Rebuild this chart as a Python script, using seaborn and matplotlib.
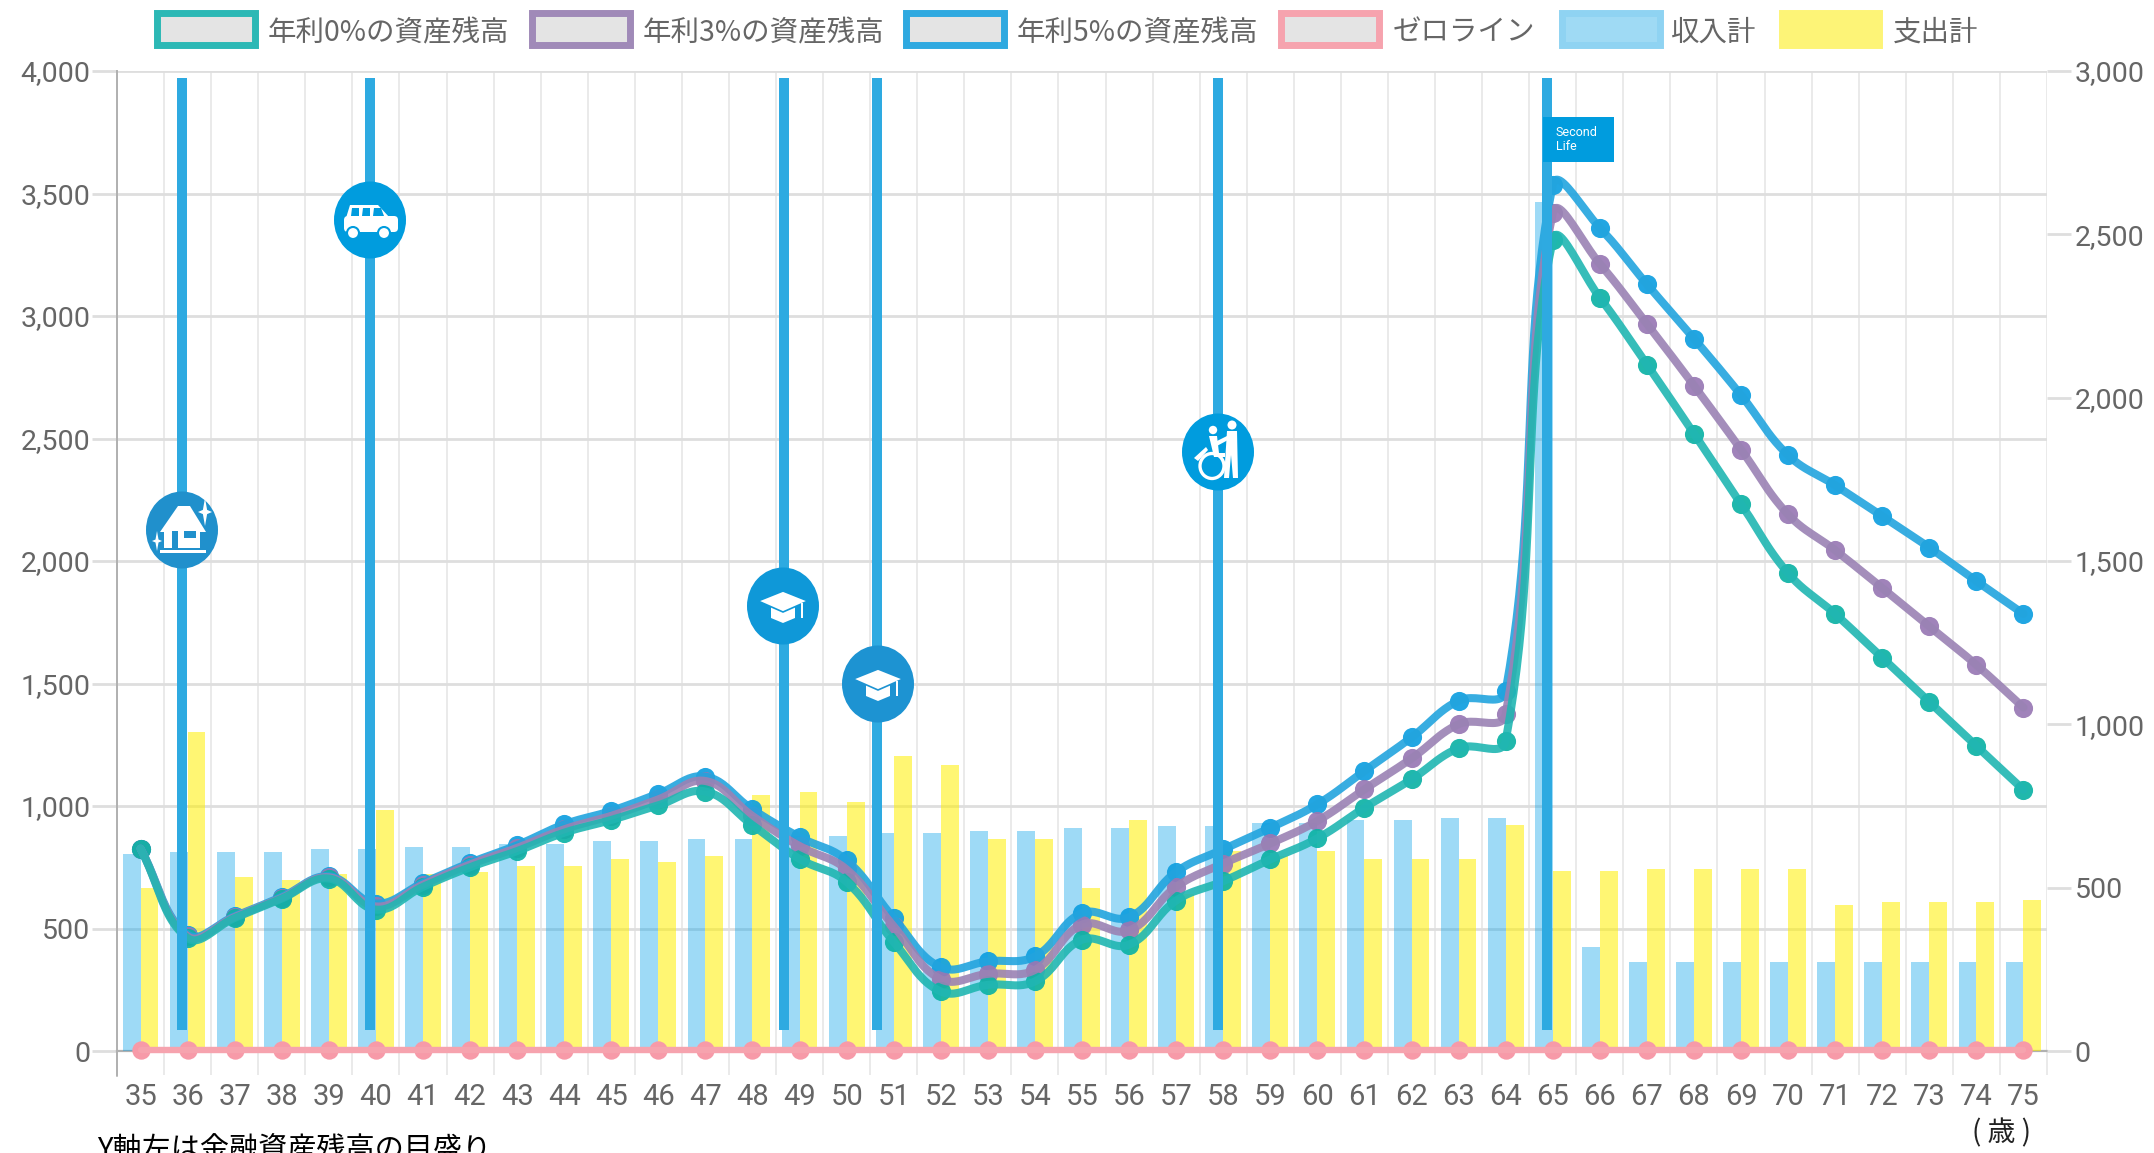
import numpy as np
import pandas as pd
import matplotlib
matplotlib.use("Agg")
import matplotlib.pyplot as plt
from matplotlib.patches import Rectangle, Ellipse, Polygon, Circle, FancyBboxPatch
import seaborn as sns

ages = list(range(35, 76))
rate0 = [826,461,543,622,704,577,670,750,816,891,943,1003,1059,922,784,690,445,243,270,284,454,434,614,693,782,868,993,1109,1236,1266,
         3310,3075,2802,2520,2233,1950,1784,1605,1425,1245,1066]
rate3 = [826,468,547,625,709,590,679,761,829,905,960,1027,1102,959,836,741,509,293,315,331,516,492,670,765,847,939,1068,1194,1334,1375,
         3420,3213,2968,2716,2455,2190,2044,1890,1733,1576,1402]
rate5 = [826,475,550,629,713,602,686,768,840,925,980,1050,1120,986,873,778,543,342,366,386,563,546,731,823,911,1007,1143,1280,1430,1470,
         3535,3360,3130,2908,2677,2432,2309,2183,2055,1918,1784]
zero_line = [6]*41
income = [602,610,610,610,618,618,626,626,634,634,642,642,650,650,658,658,666,666,674,674,682,682,690,690,698,698,706,706,714,714,
          2600,319,271,271,271,271,271,271,271,271,271]
expense = [500,977,533,525,541,738,541,548,565,565,587,580,596,785,793,762,904,874,650,650,500,706,480,612,598,613,589,589,589,692,
           550,550,558,558,558,558,447,455,455,455,462]
left_ticks = [0,500,1000,1500,2000,2500,3000,3500,4000]
right_ticks = [0,500,1000,1500,2000,2500,3000]
series_names = ["年利0%の資産残高","年利3%の資産残高","年利5%の資産残高","ゼロライン","収入計","支出計"]
event_ages = [36,40,49,51,58,65]

W, H = 2154, 1153
L, R, T, B = 117, 2047, 71, 1051
sns.set_theme(style="white")
plt.rcParams['font.family'] = ['Roboto', 'Noto Sans CJK JP', 'DejaVu Sans']
GREY = "#666666"; GRID = "#dedede"; VGRID = "#e6e6e6"
fig = plt.figure(figsize=(W/100, H/100), dpi=100, facecolor="white")
rect = [L/W, 1-B/H, (R-L)/W, (B-T)/H]

# back axes: left scale, grid
ax = fig.add_axes(rect, zorder=1)
ax.set_xlim(-0.5, 40.5); ax.set_ylim(0, 4000)
ax.set_yticks(left_ticks); ax.set_yticklabels([f"{v:,}" for v in left_ticks])
ax.set_xticks(np.arange(-0.5, 41, 1)); ax.set_xticklabels([])
ax.grid(True, axis='y', color=GRID, lw=2.0)
ax.grid(True, axis='x', color=VGRID, lw=1.2)
ax.tick_params(axis='y', length=18, width=2.0, color=GRID, labelsize=20.5, labelcolor=GREY, pad=1, left=True)
ax.tick_params(axis='x', length=17, width=1.2, color=VGRID, bottom=True)
for s in ax.spines.values(): s.set_visible(False)
ax.spines['left'].set_visible(True); ax.spines['left'].set_color("#b0b0b0"); ax.spines['left'].set_linewidth(1.4)
ax.spines['bottom'].set_visible(True); ax.spines['bottom'].set_color("#b0b0b0"); ax.spines['bottom'].set_linewidth(1.6)
ax.plot([-0.5,-0.5],[0,-100],color="#b0b0b0",lw=1.4,clip_on=False)

# bars: right scale
bar_ax = fig.add_axes(rect, zorder=2, facecolor="none")
bars = pd.DataFrame({"age":[str(a) for a in ages]*2,
                     "value":income+expense,
                     "kind":[series_names[4]]*41+[series_names[5]]*41})
sns.barplot(data=bars, x="age", y="value", hue="kind", order=[str(a) for a in ages],
            palette={series_names[4]:"#00a0e9", series_names[5]:"#fff000"}, alpha=0.38,
            width=0.76, gap=0, dodge=True, legend=False, errorbar=None, ax=bar_ax, saturation=1)
for c, a in zip(bar_ax.containers, (0.38, 0.55)):
    for p in c: p.set_alpha(a); p.set_linewidth(0)
bar_ax.set_xlim(-0.5, 40.5); bar_ax.set_ylim(0, 3000)
bar_ax.set_xlabel(""); bar_ax.set_ylabel("")
bar_ax.yaxis.tick_right()
bar_ax.set_yticks(right_ticks); bar_ax.set_yticklabels([f"{v:,}" for v in right_ticks])
bar_ax.tick_params(axis='y', length=17, width=2.0, color=GRID, labelsize=20.5, labelcolor=GREY, pad=3, right=True, left=False)
bar_ax.tick_params(axis='x', length=0, labelsize=21, labelcolor=GREY, pad=23)
bar_ax.grid(False)
for s in bar_ax.spines.values(): s.set_visible(False)

# lines: left scale
line_ax = fig.add_axes(rect, zorder=3, facecolor="none")
line_ax.set_xlim(-0.5, 40.5); line_ax.set_ylim(0, 4000); line_ax.axis("off")

def spline(xs, ys, tension=0.4, n=24):
    sx = (R-L)/41; sy = (B-T)/4000
    px = np.asarray(xs, float)*sx; py = np.asarray(ys, float)*sy
    m = len(px); out_x=[]; out_y=[]
    cn = np.zeros((m,2)); cp = np.zeros((m,2))
    for i in range(m):
        a = max(i-1,0); b = min(i+1,m-1)
        d01 = np.hypot(px[i]-px[a],py[i]-py[a]); d12 = np.hypot(px[b]-px[i],py[b]-py[i])
        tot = d01+d12
        s01 = d01/tot; s12 = d12/tot
        cp[i] = [px[i]-tension*s01*(px[b]-px[a]), py[i]-tension*s01*(py[b]-py[a])]
        cn[i] = [px[i]+tension*s12*(px[b]-px[a]), py[i]+tension*s12*(py[b]-py[a])]
    t = np.linspace(0,1,n)[:,None]
    for i in range(m-1):
        p0=np.array([px[i],py[i]]); p3=np.array([px[i+1],py[i+1]])
        c = (1-t)**3*p0+3*(1-t)**2*t*cn[i]+3*(1-t)*t**2*cp[i+1]+t**3*p3
        out_x.append(c[:,0]); out_y.append(c[:,1])
    return np.concatenate(out_x)/sx, np.concatenate(out_y)/sy

idx = np.arange(41)
styles = [(rate5,"#22a4de","#0f9fe0"),(rate3,"#9a82b4","#9878b4"),(rate0,"#20b6b2","#0db2a5")]
sns.lineplot(x=idx, y=zero_line, color="#f6a3ae", lw=4.6, estimator=None, ax=line_ax, legend=False, clip_on=False)
sns.scatterplot(x=idx, y=zero_line, color="#f79aa8", s=175, linewidth=0, ax=line_ax, legend=False, clip_on=False)
for vals, lc, mc in styles:
    xx, yy = spline(idx, vals)
    sns.lineplot(x=xx, y=yy, color=lc, lw=5.8, alpha=0.9, sort=False, estimator=None, ax=line_ax, legend=False)
    sns.scatterplot(x=idx, y=vals, color=mc, s=190, alpha=0.92, linewidth=0, ax=line_ax, legend=False)
line_ax.set_xlabel(""); line_ax.set_ylabel("")

# overlay in pixels: legend, events, notes
ov = fig.add_axes([0,0,1,1], zorder=5, facecolor="none")
ov.set_xlim(0,W); ov.set_ylim(H,0); ov.axis("off")

swatches = [(154,98,"#2cb8b5","#e4e4e4",268),(529,98,"#a08ab8","#e4e4e4",643),(903,98,"#2fa9e0","#e4e4e4",1017),
            (1278,98,"#f6a3ae","#e4e4e4",1393),(1559,98,"#8fd3f2","#9fdaf4",1671),(1779,97,"#fdf477","#fdf477",1893)]
for (x0,w,ec,fc,tx),name in zip(swatches,series_names):
    ov.add_patch(Rectangle((x0+3,13),w,32,fc=fc,ec=ec,lw=5))
    ov.text(tx,33,name,fontsize=20.5,color=GREY,va="center",ha="left",family=['Noto Sans CJK JP'])

ev_x = [182,370,784,877,1218,1547]
ev_color = "#2eaae1"
for x in ev_x:
    ov.add_patch(Rectangle((x-5,78),10,952,fc=ev_color,ec="none"))

def badge(x,y,c="#009cde"):
    ov.add_patch(Ellipse((x,y),72,77,fc=c,ec="none"))

# house
x,y=182,530; badge(x,y,"#2090cc")
ov.add_patch(Polygon([(x-22,y+2),(x-4,y-24),(x+8,y-24),(x+24,y+2),(x+18,y+2),(x+18,y+18),(x-18,y+18),(x-18,y+2)],fc="white",ec="none"))
ov.add_patch(Rectangle((x-10,y+1),6,17,fc="#2090cc",ec="none"))
ov.add_patch(Rectangle((x+2,y+1),12,7,fc="#2090cc",ec="none"))
ov.add_patch(Rectangle((x-22,y+20),46,3,fc="white",ec="none"))
for sx,sy,r in [(x+23,y-18,7),(x-25,y+11,5)]:
    ov.add_patch(Polygon([(sx,sy-2*r),(sx+r*.3,sy-r*.3),(sx+r,sy),(sx+r*.3,sy+r*.3),(sx,sy+2*r),(sx-r*.3,sy+r*.3),(sx-r,sy),(sx-r*.3,sy-r*.3)],fc="white",ec="none"))

# car
x,y=370,220; badge(x,y)
ov.add_patch(FancyBboxPatch((x-26,y-4),54,16,boxstyle="round,pad=0,rounding_size=4",fc="white",ec="none"))
ov.add_patch(Polygon([(x-24,y-2),(x-20,y-15),(x+8,y-15),(x+20,y-2)],fc="white",ec="none"))
for a,b in [(x-19,x-11),(x-8,x),(x+3,x+11)]:
    ov.add_patch(Polygon([(a,y-4),(a+1,y-12),(b,y-12),(b+(3 if a>x else 0),y-4)],fc="#009cde",ec="none"))
for w in (x-17,x+14):
    ov.add_patch(Ellipse((w,y+13),12,12,fc="white",ec="#009cde",lw=1.5))

# graduation caps
for x,y in [(783,606),(878,684)]:
    c = "#1d93d2" if y==684 else "#0f98d8"
    badge(x,y,c)
    ov.add_patch(Polygon([(x-12,y+1),(x+12,y+1),(x+12,y+12),(x,y+17),(x-12,y+12)],fc="white",ec="none"))
    ov.add_patch(Polygon([(x-25,y-5),(x,y-15),(x+25,y-5),(x,y+6)],fc="white",ec=c,lw=1.2))
    ov.add_patch(Rectangle((x+18,y-3),2,15,fc="white",ec="none"))

# wheelchair and helper
x,y=1218,452; badge(x,y)
ov.add_patch(Circle((x-5,y-22),4.2,fc="white",ec="none"))
ov.add_patch(Circle((x+14,y-27),4.5,fc="white",ec="none"))
ov.add_patch(Polygon([(x+9,y-21),(x+19,y-21),(x+20,y+26),(x+15,y+26),(x+13,y+3),(x+11,y+26),(x+6,y+26)],fc="white",ec="none"))
ov.add_patch(Polygon([(x-9,y-16),(x-1,y-16),(x+1,y+1),(x+7,y+1),(x+7,y+5),(x-4,y+5)],fc="white",ec="none"))
ov.add_patch(Ellipse((x-6,y+14),24,25,fc="none",ec="white",lw=2.4))
ov.add_patch(Polygon([(x-3,y-10),(x+9,y-16),(x+10,y-12),(x-3,y-5)],fc="white",ec="none"))
ov.add_patch(Polygon([(x-24,y+6),(x-12,y-5),(x-10,y-2),(x-20,y+9)],fc="white",ec="none"))

# second life flag
ov.add_patch(Rectangle((1543,117),71,45,fc="#009cde",ec="none"))
ov.text(1556,132,"Second",color="white",fontsize=9,va="center",ha="left")
ov.text(1556,147,"Life",color="white",fontsize=9,va="center",ha="left")

ov.text(97,1150,"Y軸左は金融資産残高の目盛り",color="black",fontsize=21,va="center",ha="left",
        family=['Noto Sans CJK JP'],clip_on=False)
ov.text(2001,1133,"( 歳 )",color="#222222",fontsize=20,va="center",ha="center",family=['Noto Sans CJK JP'])

fig.savefig("out.png", dpi=100, facecolor="white")
